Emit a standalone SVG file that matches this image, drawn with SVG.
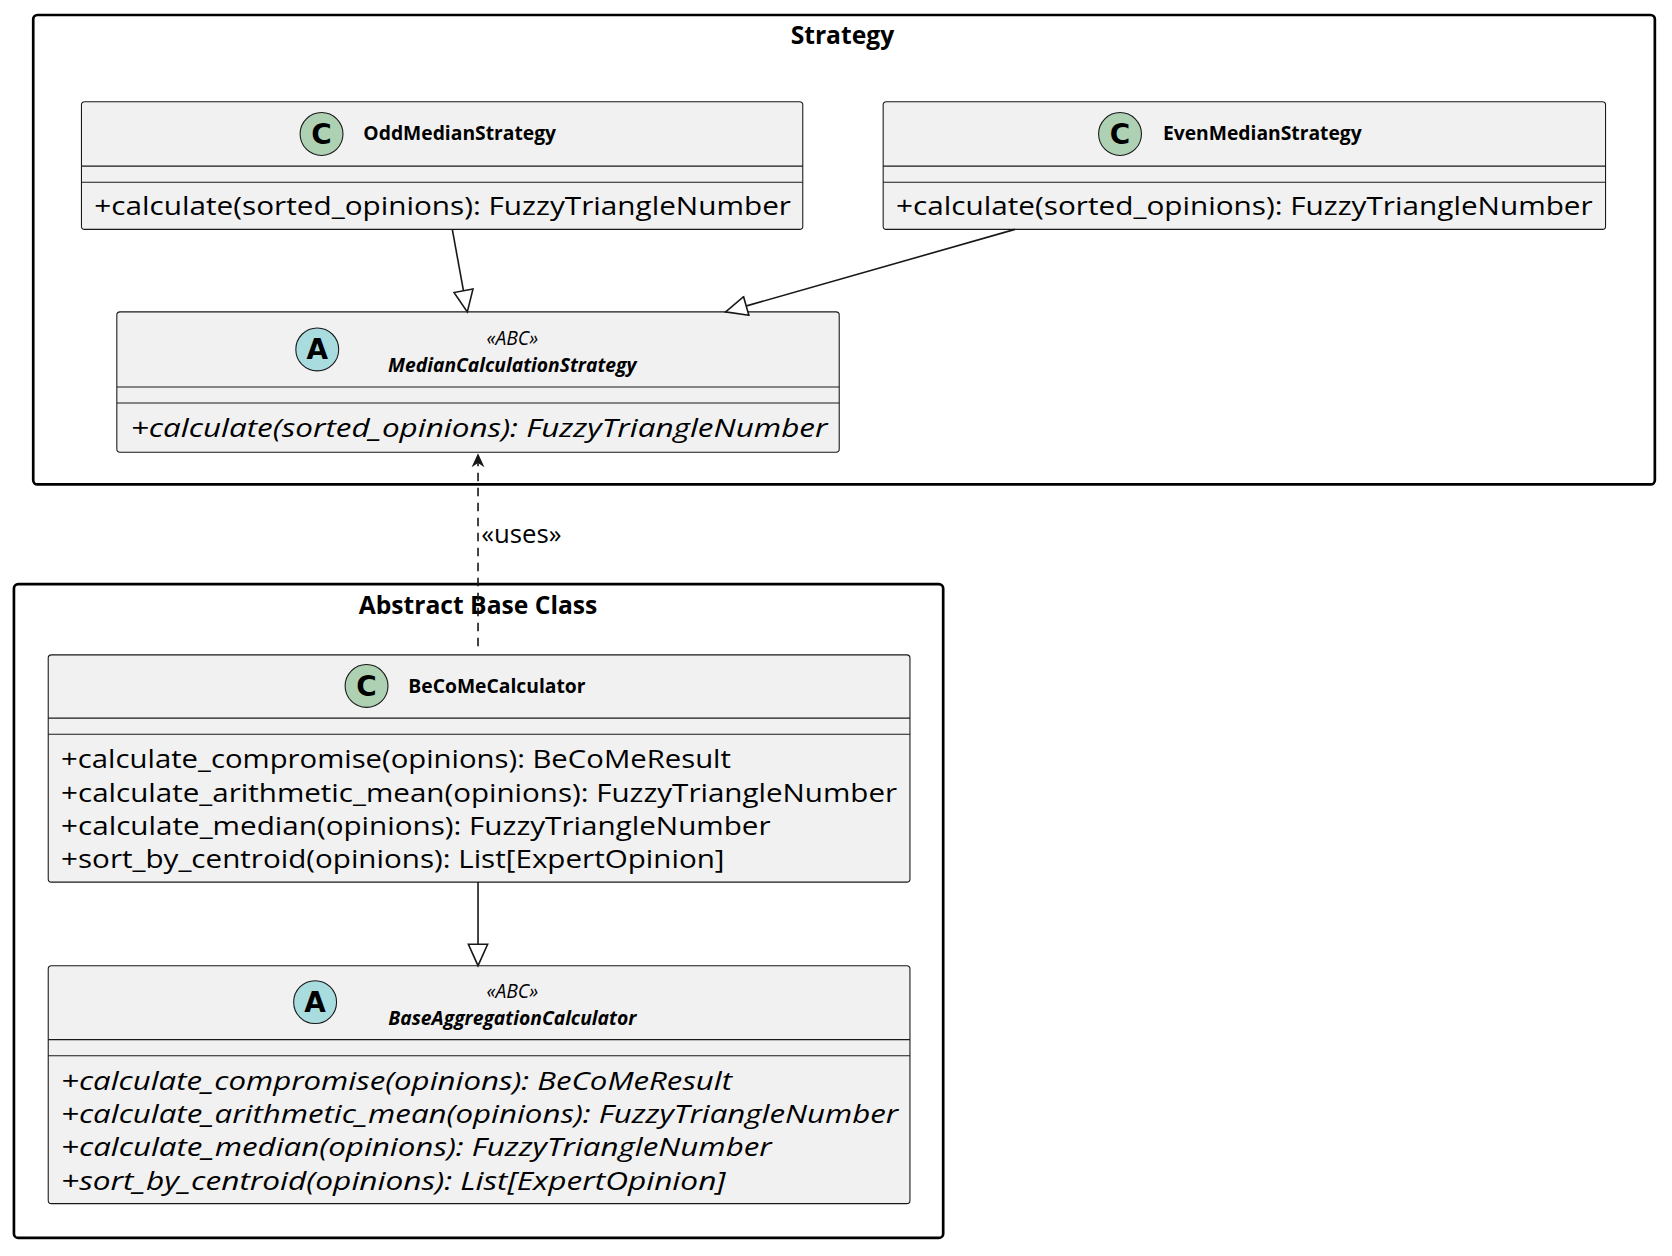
<svg xmlns="http://www.w3.org/2000/svg" width="1672" height="1256" viewBox="0 0 1672 1256">
<style>
.frame{fill:none;stroke:#000;stroke-width:2.5}
.box{fill:#f1f1f1;stroke:#181818;stroke-width:1}
.sep{stroke:#181818;stroke-width:1}
.ft{font-family:"Open Sans","DejaVu Sans",sans-serif;font-weight:bold;font-size:23px;text-anchor:middle}
.nm{font-family:"Open Sans","DejaVu Sans",sans-serif;font-weight:bold;font-size:18px}
.st{font-family:"Open Sans","DejaVu Sans",sans-serif;font-style:italic;font-size:18px;text-anchor:middle}
.m{font-family:"Open Sans","DejaVu Sans",sans-serif;font-size:24px}
.i{font-style:italic}
.circC{fill:#add1b2;stroke:#181818;stroke-width:1}
.circA{fill:#a9dcdf;stroke:#181818;stroke-width:1}
.lt{font-family:"DejaVu Sans",sans-serif;font-weight:bold;font-size:26px;text-anchor:middle}
.edge{stroke:#181818;stroke-width:1.5;fill:none}
</style>
<defs>
<marker id="tri" markerWidth="24" markerHeight="20" refX="22" refY="10" orient="auto" markerUnits="userSpaceOnUse">
<path d="M2,1 L22,10 L2,19 Z" fill="#fff" stroke="#181818" stroke-width="1.5"/>
</marker>
<marker id="open" markerWidth="16" markerHeight="14" refX="14" refY="7" orient="auto" markerUnits="userSpaceOnUse">
<path d="M1,1 L14,7 L1,13 L5,7 Z" fill="#181818"/>
</marker>
</defs>
<rect width="1672" height="1256" fill="#fff"/>
<g transform="scale(1.0718)">
<g id="frame-strategy">
<rect class="frame" x="31" y="14" width="1513" height="438" rx="4"/>
<text class="ft" x="786" y="41">Strategy</text>
</g>
<g id="frame-abc">
<rect class="frame" x="13" y="545" width="867" height="610" rx="4"/>
<text class="ft" x="446" y="573">Abstract Base Class</text>
</g>
<g id="OddMedianStrategy">
<rect class="box" x="76" y="95" width="673" height="119" rx="3"/>
<line class="sep" x1="76" y1="155" x2="749" y2="155"/><line class="sep" x1="76" y1="170" x2="749" y2="170"/>
<circle class="circC" cx="300" cy="125" r="20"/><text class="lt" x="300" y="134">C</text>
<text class="nm" x="339" y="131">OddMedianStrategy</text>
<text class="m" x="88" y="201" textLength="650" lengthAdjust="spacingAndGlyphs">+calculate(sorted_opinions): FuzzyTriangleNumber</text>
</g>
<g id="EvenMedianStrategy">
<rect class="box" x="824" y="95" width="674" height="119" rx="3"/>
<line class="sep" x1="824" y1="155" x2="1498" y2="155"/><line class="sep" x1="824" y1="170" x2="1498" y2="170"/>
<circle class="circC" cx="1045" cy="125" r="20"/><text class="lt" x="1045" y="134">C</text>
<text class="nm" x="1085" y="131">EvenMedianStrategy</text>
<text class="m" x="836" y="201" textLength="650" lengthAdjust="spacingAndGlyphs">+calculate(sorted_opinions): FuzzyTriangleNumber</text>
</g>
<g id="MedianCalculationStrategy">
<rect class="box" x="109" y="291" width="674" height="131" rx="3"/>
<line class="sep" x1="109" y1="361" x2="783" y2="361"/><line class="sep" x1="109" y1="376" x2="783" y2="376"/>
<circle class="circA" cx="296" cy="326" r="20"/><text class="lt" x="296" y="335">A</text>
<text class="st" x="478" y="322">«ABC»</text>
<text class="nm i" x="478" y="347" text-anchor="middle">MedianCalculationStrategy</text>
<text class="m i" x="122" y="408" textLength="650" lengthAdjust="spacingAndGlyphs">+calculate(sorted_opinions): FuzzyTriangleNumber</text>
</g>
<g id="BeCoMeCalculator">
<rect class="box" x="45" y="611" width="804" height="212" rx="3"/>
<line class="sep" x1="45" y1="670" x2="849" y2="670"/><line class="sep" x1="45" y1="685" x2="849" y2="685"/>
<circle class="circC" cx="342" cy="640" r="20"/><text class="lt" x="342" y="649">C</text>
<text class="nm" x="381" y="647">BeCoMeCalculator</text>
<text class="m" x="57" y="717" textLength="625" lengthAdjust="spacingAndGlyphs">+calculate_compromise(opinions): BeCoMeResult</text>
<text class="m" x="57" y="748" textLength="780" lengthAdjust="spacingAndGlyphs">+calculate_arithmetic_mean(opinions): FuzzyTriangleNumber</text>
<text class="m" x="57" y="779" textLength="662" lengthAdjust="spacingAndGlyphs">+calculate_median(opinions): FuzzyTriangleNumber</text>
<text class="m" x="57" y="810" textLength="619" lengthAdjust="spacingAndGlyphs">+sort_by_centroid(opinions): List[ExpertOpinion]</text>
</g>
<g id="BaseAggregationCalculator">
<rect class="box" x="45" y="901" width="804" height="222" rx="3"/>
<line class="sep" x1="45" y1="970" x2="849" y2="970"/><line class="sep" x1="45" y1="985" x2="849" y2="985"/>
<circle class="circA" cx="294" cy="935" r="20"/><text class="lt" x="294" y="944">A</text>
<text class="st" x="478" y="931">«ABC»</text>
<text class="nm i" x="478" y="956" text-anchor="middle">BaseAggregationCalculator</text>
<text class="m i" x="57" y="1017" textLength="626" lengthAdjust="spacingAndGlyphs">+calculate_compromise(opinions): BeCoMeResult</text>
<text class="m i" x="57" y="1048" textLength="781" lengthAdjust="spacingAndGlyphs">+calculate_arithmetic_mean(opinions): FuzzyTriangleNumber</text>
<text class="m i" x="57" y="1079" textLength="663" lengthAdjust="spacingAndGlyphs">+calculate_median(opinions): FuzzyTriangleNumber</text>
<text class="m i" x="57" y="1110" textLength="620" lengthAdjust="spacingAndGlyphs">+sort_by_centroid(opinions): List[ExpertOpinion]</text>
</g>
<g id="connectors">
<line class="edge" x1="422" y1="214" x2="436" y2="291" marker-end="url(#tri)"/>
<line class="edge" x1="947" y1="214" x2="677" y2="291" marker-end="url(#tri)"/>
<line class="edge" x1="446" y1="823" x2="446" y2="901" marker-end="url(#tri)"/>
<line class="edge" x1="446" y1="603" x2="446" y2="423" stroke-dasharray="8,6" marker-end="url(#open)"/>
<text class="m" x="449" y="507" font-size="21">«uses»</text>
</g>
</g>
</svg>
